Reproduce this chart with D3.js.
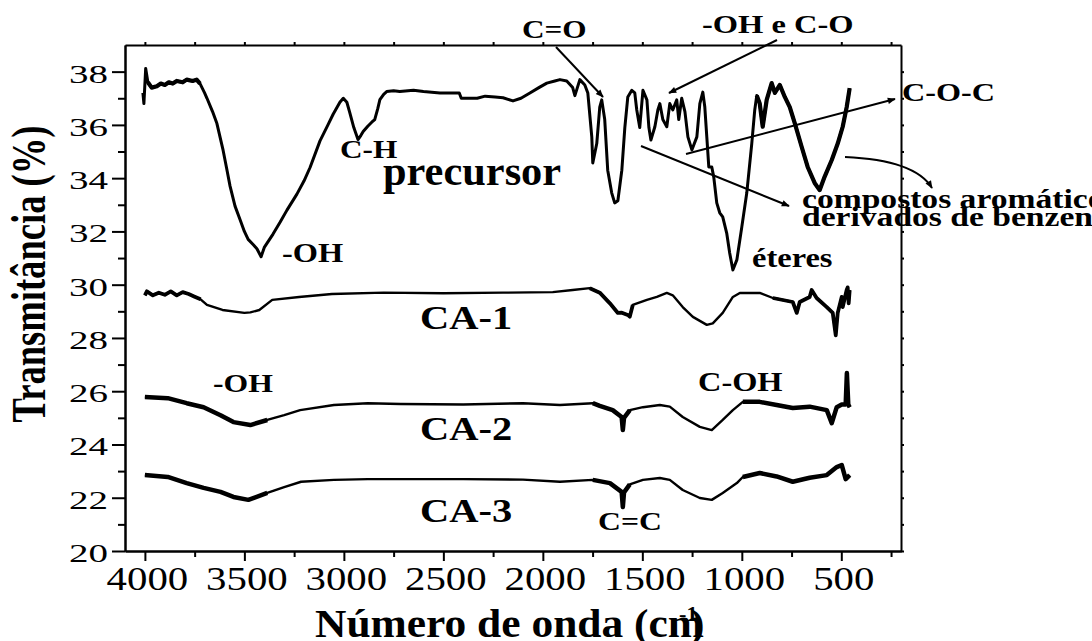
<!DOCTYPE html>
<html>
<head>
<meta charset="utf-8">
<script src="https://cdn.jsdelivr.net/npm/d3@7"></script>
<style>
  html, body { margin: 0; padding: 0; background: #fff; }
  svg { display: block; }
  text { font-family: "Liberation Serif", "Times New Roman", serif; fill: #000; }
</style>
</head>
<body>
<svg id="chart" width="1092" height="641"></svg>
<script>
// FTIR spectra: [wavenumber (cm-1), transmittance (%)]
const precursor = [
  [4010, 37.2], [4005, 36.8], [3996, 38.12], [3985, 37.6], [3966, 37.4], [3940, 37.45], [3920, 37.55],
  [3900, 37.5], [3880, 37.6], [3860, 37.55], [3840, 37.65], [3810, 37.6], [3790, 37.7], [3760, 37.65],
  [3740, 37.7], [3723, 37.55], [3700, 37.2], [3688, 37.0], [3660, 36.5], [3638, 36.05], [3607, 35.05],
  [3590, 34.4], [3572, 33.7], [3547, 32.95], [3522, 32.45], [3500, 32.0], [3481, 31.7], [3455, 31.5],
  [3437, 31.35], [3416, 31.05], [3400, 31.4], [3356, 31.9], [3320, 32.35], [3286, 32.8], [3236, 33.4],
  [3200, 33.9], [3170, 34.4], [3120, 35.4], [3080, 36.0], [3054, 36.4], [3020, 36.85], [3003, 37.0],
  [2985, 36.85], [2970, 36.45], [2950, 35.9], [2929, 35.45], [2915, 35.6], [2903, 35.75], [2880, 35.95],
  [2860, 36.1], [2845, 36.2], [2830, 36.6], [2819, 36.95], [2800, 37.15], [2785, 37.25], [2750, 37.28],
  [2719, 37.25], [2650, 37.3], [2600, 37.25], [2517, 37.2], [2420, 37.2], [2410, 37.0], [2330, 37.0],
  [2290, 37.08], [2240, 37.05], [2200, 37.02], [2150, 36.9], [2110, 37.0], [2065, 37.2], [2020, 37.4],
  [1980, 37.57], [1940, 37.65], [1914, 37.7], [1880, 37.65], [1850, 37.4], [1839, 37.1], [1814, 37.7],
  [1789, 37.5], [1774, 37.2], [1754, 35.55], [1749, 34.57], [1729, 35.3], [1714, 36.67], [1704, 36.94],
  [1689, 36.2], [1674, 34.3], [1654, 33.45], [1639, 33.07], [1623, 33.15], [1603, 34.3], [1588, 35.9],
  [1573, 37.05], [1553, 37.3], [1538, 37.2], [1528, 36.56], [1513, 35.9], [1497, 37.3], [1477, 36.94],
  [1467, 35.9], [1457, 35.43], [1437, 35.93], [1422, 36.56], [1412, 36.8], [1397, 36.2], [1377, 35.93],
  [1362, 36.8], [1347, 36.56], [1327, 36.94], [1317, 36.2], [1302, 37.0], [1286, 36.5], [1271, 35.55],
  [1251, 35.06], [1226, 35.55], [1211, 36.8], [1196, 37.23], [1186, 36.67], [1176, 35.55], [1166, 34.42],
  [1151, 34.42], [1141, 34.04], [1126, 33.07], [1111, 32.7], [1096, 32.55], [1076, 31.94], [1061, 31.19],
  [1045, 30.55], [1025, 30.93], [1000, 32.17], [975, 33.45], [950, 35.3], [935, 36.56], [925, 37.1],
  [910, 36.8], [895, 35.93], [875, 36.94], [850, 37.57], [834, 37.2], [809, 37.5], [784, 37.05],
  [759, 36.67], [734, 36.07], [699, 35.17], [669, 34.42], [634, 33.82], [609, 33.55], [584, 34.05],
  [548, 34.68], [518, 35.3], [493, 35.93], [473, 36.67], [458, 37.38]
];

const ca1 = [
  [4000, 29.6], [3990, 29.75], [3960, 29.6], [3930, 29.7], [3900, 29.62], [3870, 29.75], [3840, 29.6],
  [3810, 29.72], [3780, 29.65], [3750, 29.55], [3720, 29.45], [3688, 29.24], [3610, 29.05], [3500, 28.94],
  [3470, 28.96], [3425, 29.05], [3360, 29.43], [3225, 29.54], [3060, 29.65], [2800, 29.7], [2500, 29.68],
  [2200, 29.7], [1950, 29.72], [1850, 29.8], [1764, 29.87], [1714, 29.7], [1663, 29.3], [1623, 28.94],
  [1603, 28.95], [1570, 28.85], [1563, 28.8], [1548, 29.24], [1477, 29.43], [1427, 29.54], [1377, 29.69],
  [1347, 29.6], [1297, 29.16], [1246, 28.79], [1176, 28.49], [1146, 28.55], [1096, 28.94], [1045, 29.54],
  [1010, 29.69], [910, 29.69], [844, 29.5], [744, 29.35], [724, 28.94], [709, 29.35], [659, 29.54],
  [649, 29.8], [624, 29.5], [573, 29.16], [543, 28.94], [528, 28.1], [518, 28.94], [498, 29.54],
  [493, 29.16], [473, 29.8], [468, 29.9], [463, 29.3], [458, 29.8]
];

const ca2 = [
  [4000, 25.78], [3885, 25.74], [3790, 25.55], [3705, 25.4], [3620, 25.1], [3555, 24.84], [3470, 24.73],
  [3385, 24.92], [3300, 25.1], [3220, 25.29], [3050, 25.48], [2880, 25.55], [2715, 25.52], [2400, 25.5],
  [2100, 25.55], [1914, 25.48], [1749, 25.55], [1714, 25.45], [1649, 25.29], [1604, 25.03], [1598, 24.54],
  [1592, 25.0], [1563, 25.29], [1497, 25.4], [1412, 25.48], [1362, 25.42], [1297, 25.03], [1211, 24.66],
  [1151, 24.54], [1096, 24.92], [1045, 25.29], [995, 25.6], [910, 25.6], [825, 25.48], [744, 25.37],
  [659, 25.42], [573, 25.29], [548, 24.8], [523, 25.4], [498, 25.5], [478, 25.5], [472, 26.68],
  [465, 25.5], [458, 25.4]
];

const ca3 = [
  [4000, 22.85], [3885, 22.78], [3790, 22.55], [3705, 22.37], [3620, 22.22], [3555, 22.03], [3480, 21.92],
  [3385, 22.18], [3300, 22.4], [3215, 22.6], [3050, 22.67], [2880, 22.7], [2715, 22.7], [2400, 22.7],
  [2100, 22.68], [1914, 22.6], [1749, 22.67], [1663, 22.55], [1604, 22.22], [1598, 21.65], [1592, 22.2],
  [1563, 22.5], [1497, 22.67], [1412, 22.74], [1362, 22.67], [1297, 22.29], [1211, 21.99], [1151, 21.92],
  [1096, 22.18], [1025, 22.55], [995, 22.78], [910, 22.93], [825, 22.8], [744, 22.6], [659, 22.75],
  [573, 22.85], [523, 23.15], [498, 23.23], [478, 22.7], [458, 22.85]
];

// wavenumber ranges where the recorded signal is visibly noisy (drawn as a thicker trace)
const precursorNoisy = [[3990, 3720], [930, 455]];
const ca1Noisy = [[4000, 3700], [1800, 1540], [900, 455]];
const ca2Noisy = [[4000, 3380], [1800, 1560], [1000, 455]];
const ca3Noisy = [[4000, 3380], [1800, 1560], [1000, 455]];

const xTicks = [4000, 3500, 3000, 2500, 2000, 1500, 1000, 500];
const xMinorTicks = [3750, 3250, 2750, 2250, 1750, 1250, 750, 250];
const yTicks = [20, 22, 24, 26, 28, 30, 32, 34, 36, 38];
const yMinorTicks = [21, 23, 25, 27, 29, 31, 33, 35, 37];

const svg = d3.select("#chart");
const x = d3.scaleLinear().domain([4100, 200]).range([125, 901]);
const y = d3.scaleLinear().domain([20, 39]).range([551, 45]);

// arrowhead marker
svg.append("defs").append("marker")
  .attr("id", "head").attr("viewBox", "0 0 10 10")
  .attr("refX", 9).attr("refY", 5)
  .attr("markerWidth", 10).attr("markerHeight", 8)
  .attr("markerUnits", "userSpaceOnUse")
  .attr("orient", "auto")
  .append("path").attr("d", "M0,1 L10,5 L0,9 Z").attr("fill", "#000");

// frame axes
const axW = 2;
function styleAxis(g) {
  g.attr("font-family", null).attr("font-size", null);
  g.select(".domain").attr("stroke", "#000").attr("stroke-width", axW);
  g.selectAll(".tick line").attr("stroke", "#000").attr("stroke-width", axW);
}
svg.append("g").attr("transform", "translate(0,551)")
  .call(d3.axisBottom(x).tickValues(xMinorTicks).tickSize(6).tickSizeOuter(0).tickFormat(""))
  .call(styleAxis);
const xAxis = svg.append("g").attr("transform", "translate(0,551)")
  .call(d3.axisBottom(x).tickValues(xTicks).tickSize(10).tickSizeOuter(0).tickFormat(d3.format("d")))
  .call(styleAxis);
xAxis.selectAll(".tick text")
  .attr("y", 0).attr("dy", 0).attr("fill", "#000")
  .attr("transform", "translate(2,39) scale(1.2,1)")
  .style("font-size", "34px").style("font-family", "Liberation Serif");

svg.append("g").attr("transform", "translate(125,0)")
  .call(d3.axisLeft(y).tickValues(yMinorTicks).tickSize(7).tickSizeOuter(0).tickFormat(""))
  .call(styleAxis);
const yAxis = svg.append("g").attr("transform", "translate(125,0)")
  .call(d3.axisLeft(y).tickValues(yTicks).tickSize(13).tickSizeOuter(0).tickFormat(d3.format("d")))
  .call(styleAxis);
yAxis.selectAll(".tick text")
  .attr("x", 0).attr("dy", 0).attr("fill", "#000")
  .attr("transform", "translate(-17,10.5) scale(1.5,1)")
  .style("font-size", "26px").style("font-family", "Liberation Serif");

svg.append("g").attr("transform", "translate(0,45)")
  .call(d3.axisTop(x).tickValues(xTicks.concat(xMinorTicks)).tickSize(3).tickSizeOuter(0).tickFormat(""))
  .call(styleAxis);
svg.append("g").attr("transform", "translate(901,0)")
  .call(d3.axisRight(y).tickValues(yTicks.concat(yMinorTicks)).tickSize(3).tickSizeOuter(0).tickFormat(""))
  .call(styleAxis);

// spectra
const line = d3.line().x(d => x(d[0])).y(d => y(d[1]));
function drawSeries(data, noisy, width, bandWidth) {
  svg.append("path").datum(data).attr("d", line)
    .attr("fill", "none").attr("stroke", "#000").attr("stroke-width", width)
    .attr("stroke-linejoin", "round");
  noisy.forEach(([hi, lo]) => {
    const seg = data.filter(d => d[0] <= hi && d[0] >= lo);
    svg.append("path").datum(seg).attr("d", line)
      .attr("fill", "none").attr("stroke", "#000").attr("stroke-width", bandWidth)
      .attr("stroke-linejoin", "round");
  });
}
drawSeries(precursor, precursorNoisy, 3, 4.2);
drawSeries(ca1, ca1Noisy, 2.4, 3.8);
drawSeries(ca2, ca2Noisy, 2.4, 4.5);
drawSeries(ca3, ca3Noisy, 2.4, 4.5);

// labels
function label(txt, px, py, size, sx) {
  svg.append("text")
    .attr("transform", `translate(${px},${py}) scale(${sx},1)`)
    .style("font-size", size + "px").style("font-weight", "bold")
    .text(txt);
}
label("C=O", 522, 38, 25, 1.25);
label("-OH e C-O", 702, 33, 25, 1.3);
label("C-O-C", 902, 101, 26, 1.24);
label("C-H", 340, 158, 25, 1.25);
label("precursor", 383, 185, 40, 1.06);
label("-OH", 282, 262, 27, 1.2);
label("éteres", 752, 267, 28, 1.16);
label("compostos aromáticos", 802, 208, 28, 1.2);
label("derivados de benzeno", 802, 226, 28, 1.2);
label("CA-1", 420, 329, 34, 1.19);
label("CA-2", 420, 440, 34, 1.19);
label("CA-3", 420, 522, 34, 1.19);
label("-OH", 213, 392, 26, 1.22);
label("C-OH", 698, 391, 27, 1.2);
label("C=C", 598, 530, 25, 1.27);

// annotation arrows
function arrow(x1, y1, x2, y2) {
  svg.append("line").attr("x1", x1).attr("y1", y1).attr("x2", x2).attr("y2", y2)
    .attr("stroke", "#000").attr("stroke-width", 2).attr("marker-end", "url(#head)");
}
arrow(556, 47, 603, 97);
arrow(777, 40, 669, 93);
arrow(686, 154, 895, 99);
arrow(641, 146, 789, 206);
svg.append("path").attr("d", "M845,157 Q915,160 932,188")
  .attr("fill", "none").attr("stroke", "#000").attr("stroke-width", 2)
  .attr("marker-end", "url(#head)");

// axis titles
svg.append("text")
  .attr("transform", "translate(45,274) scale(1.32,1) rotate(-90)")
  .attr("text-anchor", "middle")
  .style("font-size", "36.6px").style("font-weight", "bold")
  .text("Transmitância (%)");

svg.append("text")
  .attr("transform", "translate(315,637) scale(1.06,1)")
  .style("font-size", "41px").style("font-weight", "bold")
  .text("Número de onda (cm");
svg.append("text")
  .attr("transform", "translate(679,621) scale(1.06,1)")
  .style("font-size", "21px").style("font-weight", "bold")
  .text("-1");
svg.append("text")
  .attr("transform", "translate(690,637) scale(1.06,1)")
  .style("font-size", "41px").style("font-weight", "bold")
  .text(")");
</script>
</body>
</html>
